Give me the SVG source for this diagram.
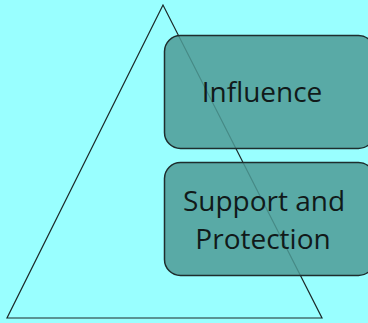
<svg xmlns="http://www.w3.org/2000/svg" width="368" height="323" viewBox="0 0 368 323">
  <style>
    .bg { fill: #99FFFF; }
    .tri { fill: none; stroke: #1c2a2a; stroke-width: 1.2; }
    .box { fill: #4E9B96; fill-opacity: 0.85; stroke: #1e2e2e; stroke-width: 1.5; }
    .label { font-family: "Open Sans", "Liberation Sans", sans-serif; font-size: 28px; fill: #111a1a; text-anchor: middle; }
  </style>
  <rect class="bg" x="0" y="0" width="368" height="323"/>
  <g id="pyramid">
    <polygon class="tri" points="163,5 7,318 322,318"/>
  </g>
  <g id="influence">
    <rect class="box" x="164.5" y="35.5" width="210" height="113" rx="16"/>
    <text class="label" x="262" y="102">Influence</text>
  </g>
  <g id="support">
    <rect class="box" x="164.5" y="162.5" width="210" height="113" rx="16"/>
    <text class="label" x="264" y="211">Support and</text>
    <text class="label" x="263" y="249">Protection</text>
  </g>
</svg>
